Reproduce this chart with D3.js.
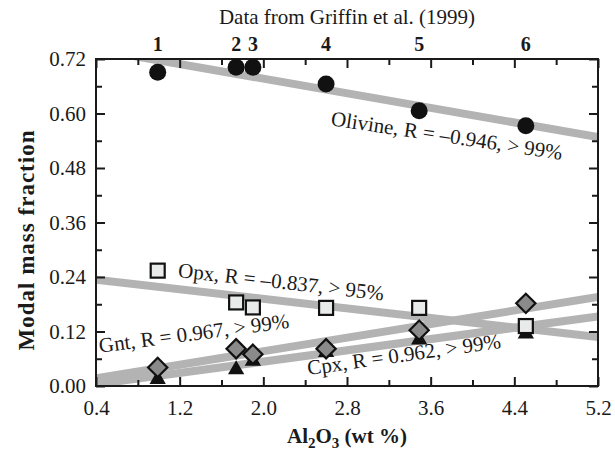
<!DOCTYPE html>
<html>
<head>
<meta charset="utf-8">
<script src="https://cdn.jsdelivr.net/npm/d3@7"></script>
<style>
  body { margin: 0; background: #fff; }
  svg text { font-family: "Liberation Serif", "Times New Roman", serif; fill: #1a1a1a; }
</style>
</head>
<body>
<svg id="chart" width="615" height="451"></svg>
<script>
// Griffin et al. (1999) samples
const samples = ["1", "2", "3", "4", "5", "6"];
const al2o3 = [0.99, 1.74, 1.90, 2.60, 3.49, 4.51];
const olivine = [0.691, 0.702, 0.702, 0.665, 0.606, 0.573];
const opx = [0.254, 0.184, 0.173, 0.172, 0.172, 0.132];
const gnt = [0.041, 0.082, 0.070, 0.082, 0.123, 0.182];
const cpx = [0.015, 0.036, 0.055, 0.074, 0.102, 0.115];

// regression lines, values at the axis ends
const fitX = [0.4, 5.2];
const olivineFit = [0.741, 0.548];
const opxFit = [0.234, 0.108];
const gntFit = [0.017, 0.196];
const cpxFit = [0.004, 0.153];

const xTicks = [0.4, 1.2, 2.0, 2.8, 3.6, 4.4, 5.2];
const yTicks = [0.00, 0.12, 0.24, 0.36, 0.48, 0.60, 0.72];

const svg = d3.select("#chart");
const margin = {top: 59, right: 17, bottom: 65, left: 96};
const W = 615, H = 451;
const iw = W - margin.left - margin.right;
const ih = H - margin.top - margin.bottom;

const x = d3.scaleLinear().domain([0.4, 5.2]).range([0, iw]);
const y = d3.scaleLinear().domain([0, 0.72]).range([ih, 0]);

svg.append("defs").append("clipPath").attr("id", "plot-clip")
    .append("rect").attr("width", iw).attr("height", ih);

const g = svg.append("g").attr("transform", `translate(${margin.left},${margin.top})`);

// fit lines
const lines = g.append("g").attr("clip-path", "url(#plot-clip)");
const line = d3.line().x(d => x(d[0])).y(d => y(d[1]));
[olivineFit, opxFit, gntFit, cpxFit].forEach(fit => {
    lines.append("path")
        .attr("d", line(d3.zip(fitX, fit)))
        .attr("fill", "none")
        .attr("stroke", "#b3b3b3")
        .attr("stroke-width", 8);
});

// axes: ticks inward on all four sides
const minorX = d3.range(0, 13).map(i => 0.4 + i * 0.4);
const minorY = d3.range(0, 13).map(i => i * 0.06);
const isMajor = (v, arr) => arr.some(t => Math.abs(t - v) < 1e-6);

function styleAxis(sel) {
    sel.select(".domain").remove();
    sel.selectAll(".tick line").attr("stroke", "#1a1a1a").attr("stroke-width", 2);
}

g.append("g").attr("transform", `translate(0,${ih})`)
    .call(d3.axisBottom(x).tickValues(minorX)
        .tickSize(-6).tickPadding(14)
        .tickFormat(d => isMajor(d, xTicks) ? d3.format(".1f")(d) : ""))
    .call(styleAxis)
    .call(a => a.selectAll(".tick line").filter(d => isMajor(d, xTicks)).attr("y2", -9))
    .call(a => a.selectAll(".tick text").attr("font-size", 21).attr("fill", "#1a1a1a"));

g.append("g")
    .call(d3.axisTop(x).tickValues(minorX).tickSize(-6).tickFormat(""))
    .call(styleAxis)
    .call(a => a.selectAll(".tick line").filter(d => isMajor(d, xTicks)).attr("y2", 9));

g.append("g")
    .call(d3.axisLeft(y).tickValues(minorY)
        .tickSize(-6).tickPadding(10)
        .tickFormat(d => isMajor(d, yTicks) ? d3.format(".2f")(d) : ""))
    .call(styleAxis)
    .call(a => a.selectAll(".tick line").filter(d => isMajor(d, yTicks)).attr("x2", 9))
    .call(a => a.selectAll(".tick text").attr("font-size", 21).attr("fill", "#1a1a1a"));

g.append("g").attr("transform", `translate(${iw},0)`)
    .call(d3.axisRight(y).tickValues(minorY).tickSize(-6).tickFormat(""))
    .call(styleAxis)
    .call(a => a.selectAll(".tick line").filter(d => isMajor(d, yTicks)).attr("x2", -9));

g.append("rect")
    .attr("width", iw).attr("height", ih)
    .attr("fill", "none").attr("stroke", "#1a1a1a").attr("stroke-width", 2);

// markers
const pts = arr => d3.zip(al2o3, arr);

g.selectAll(".cpx").data(pts(cpx)).enter().append("path")
    .attr("class", "cpx")
    .attr("d", d3.symbol(d3.symbolTriangle, 115))
    .attr("transform", d => `translate(${x(d[0])},${y(d[1])})`)
    .attr("fill", "#111");

g.selectAll(".gnt").data(pts(gnt)).enter().append("rect")
    .attr("class", "gnt")
    .attr("x", -6.8).attr("y", -6.8).attr("width", 13.6).attr("height", 13.6)
    .attr("transform", d => `translate(${x(d[0])},${y(d[1])}) rotate(45)`)
    .attr("fill", "#8a8a8a").attr("stroke", "#111").attr("stroke-width", 2.2);

g.selectAll(".opx").data(pts(opx)).enter().append("rect")
    .attr("class", "opx")
    .attr("x", d => x(d[0]) - 7).attr("y", d => y(d[1]) - 7)
    .attr("width", 14).attr("height", 14)
    .attr("fill", "#e8ebea").attr("stroke", "#111").attr("stroke-width", 2.2);

g.selectAll(".ol").data(pts(olivine)).enter().append("circle")
    .attr("class", "ol")
    .attr("cx", d => x(d[0])).attr("cy", d => y(d[1])).attr("r", 8.5)
    .attr("fill", "#111");

// annotations
const notes = [
    {text: "Olivine, R = \u20130.946, > 99%", at: [2.64, 0.574], angle: 8.5},
    {text: "Opx, R = \u20130.837, > 95%", at: [1.18, 0.240], angle: 6.5},
    {text: "Gnt, R = 0.967, > 99%", at: [0.437, 0.073], angle: -7.5},
    {text: "Cpx, R = 0.962, > 99%", at: [2.43, 0.024], angle: -8}
];
g.selectAll(".note").data(notes).enter().append("text")
    .attr("class", "note")
    .attr("transform", d => `translate(${x(d.at[0])},${y(d.at[1])}) rotate(${d.angle})`)
    .attr("font-size", 21)
    .text(d => d.text);

// sample numbers on top
g.selectAll(".sample").data(d3.zip(samples, al2o3)).enter().append("text")
    .attr("class", "sample")
    .attr("x", d => x(d[1])).attr("y", -8)
    .attr("text-anchor", "middle")
    .attr("font-size", 20).attr("font-weight", "bold")
    .text(d => d[0]);

svg.append("text")
    .attr("x", margin.left + iw / 2).attr("y", 24)
    .attr("text-anchor", "middle").attr("font-size", 21)
    .text("Data from Griffin et al. (1999)");

// axis titles
const xl = svg.append("text")
    .attr("x", margin.left + iw / 2).attr("y", 443)
    .attr("text-anchor", "middle").attr("font-size", 21).attr("font-weight", "bold");
xl.append("tspan").text("Al");
xl.append("tspan").attr("font-size", 15).attr("dy", 5).text("2");
xl.append("tspan").attr("dy", -5).text("O");
xl.append("tspan").attr("font-size", 15).attr("dy", 5).text("3");
xl.append("tspan").attr("dy", -5).text(" (wt %)");

svg.append("text")
    .attr("transform", `translate(34,240) rotate(-90)`)
    .attr("text-anchor", "middle").attr("font-size", 23).attr("font-weight", "bold")
    .attr("letter-spacing", 1)
    .text("Modal mass fraction");
</script>
</body>
</html>
